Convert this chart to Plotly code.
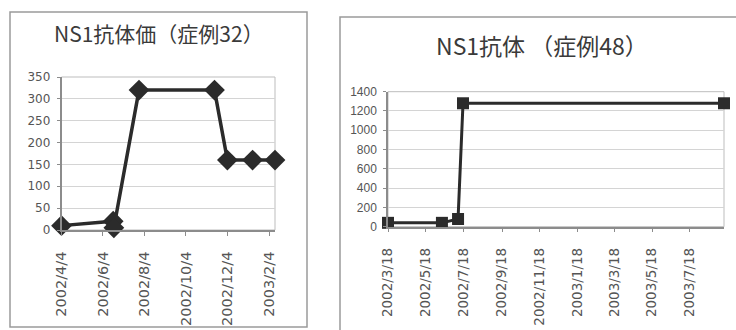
import plotly.graph_objects as go

W, H = 736, 330

# NS1 antibody titers, case 32
dates_32 = ["2002-04-04", "2002-06-19", "2002-06-20", "2002-07-27",
            "2002-11-15", "2002-12-04", "2003-01-10", "2003-02-12"]
titer_32 = [10, 20, 5, 320, 320, 160, 160, 160]
xticks_32 = ["2002-04-04", "2002-06-04", "2002-08-04", "2002-10-04",
             "2002-12-04", "2003-02-04"]
xlabels_32 = ["2002/4/4", "2002/6/4", "2002/8/4", "2002/10/4",
              "2002/12/4", "2003/2/4"]
yticks_32 = [0, 50, 100, 150, 200, 250, 300, 350]

# NS1 antibody titers, case 48
dates_48 = ["2002-03-18", "2002-06-13", "2002-07-09", "2002-07-17", "2003-09-11"]
titer_48 = [40, 40, 80, 1280, 1280]
xticks_48 = ["2002-03-18", "2002-05-18", "2002-07-18", "2002-09-18",
             "2002-11-18", "2003-01-18", "2003-03-18", "2003-05-18",
             "2003-07-18"]
xlabels_48 = ["2002/3/18", "2002/5/18", "2002/7/18", "2002/9/18",
              "2002/11/18", "2003/1/18", "2003/3/18", "2003/5/18",
              "2003/7/18"]
yticks_48 = [0, 200, 400, 600, 800, 1000, 1200, 1400]

title_32 = "NS1抗体価（症例32）"
title_48 = "NS1抗体 （症例48）"


def fx(px):
    return px / W


def fy(py):
    return 1 - py / H


LINE = "#2b2b2b"
GRID = "#d4d4d4"
AXIS = "#8c8c8c"
TICKC = "#555555"

fig = go.Figure()

fig.add_trace(go.Scatter(
    x=dates_32, y=titer_32, mode="lines+markers",
    line=dict(color=LINE, width=3.5),
    marker=dict(symbol="diamond", size=16, color=LINE),
    cliponaxis=False, xaxis="x", yaxis="y", showlegend=False))

fig.add_trace(go.Scatter(
    x=dates_48, y=titer_48, mode="lines+markers",
    line=dict(color=LINE, width=3),
    marker=dict(symbol="square", size=12, color=LINE),
    cliponaxis=False, xaxis="x2", yaxis="y2", showlegend=False))

common_x = dict(type="date", showgrid=False, showline=True, linecolor=AXIS,
                linewidth=1.5, ticks="outside", ticklen=4, tickcolor=AXIS,
                tickangle=-90, zeroline=False, ticklabelstandoff=10,
                automargin=False)
common_y = dict(showgrid=True, gridcolor=GRID, gridwidth=1, showline=True,
                linecolor=AXIS, linewidth=1.5, ticks="outside", ticklen=3,
                tickcolor=AXIS, zeroline=False, ticklabelstandoff=4,
                automargin=False)

fig.update_layout(
    template="none",
    width=W, height=H,
    margin=dict(l=0, r=0, t=0, b=0),
    paper_bgcolor="white", plot_bgcolor="white",
    xaxis=dict(**common_x, domain=[fx(61.5), fx(275)],
               range=["2002-04-04", "2003-02-12"],
               tickvals=xticks_32, ticktext=xlabels_32,
               tickfont=dict(family="DejaVu Sans", size=14.5, color=TICKC),
               anchor="y"),
    yaxis=dict(**common_y, domain=[fy(230), fy(77)], range=[0, 350],
               tickvals=yticks_32,
               tickfont=dict(family="DejaVu Sans", size=12, color=TICKC),
               anchor="x"),
    xaxis2=dict(**common_x, domain=[fx(388), fx(724)],
                range=["2002-03-18", "2003-09-11"],
                tickvals=xticks_48, ticktext=xlabels_48,
                tickfont=dict(family="DejaVu Sans", size=13.5, color=TICKC),
                anchor="y2"),
    yaxis2=dict(**common_y, domain=[fy(226.7), fy(91.7)], range=[0, 1400],
                tickvals=yticks_48,
                tickfont=dict(family="Liberation Sans", size=12, color=TICKC),
                anchor="x2"),
)

# outer chart frames and plot-area borders
shapes = [
    dict(type="rect", xref="paper", yref="paper",
         x0=fx(10), x1=fx(307), y0=fy(327), y1=fy(12),
         line=dict(color="#9a9a9a", width=1.5), layer="below"),
    dict(type="rect", xref="paper", yref="paper",
         x0=fx(340), x1=fx(760), y0=fy(345), y1=fy(17),
         line=dict(color="#9a9a9a", width=1.5), layer="below"),
    dict(type="rect", xref="x domain", yref="y domain",
         x0=0, x1=1, y0=0, y1=1, line=dict(color="#bdbdbd", width=1),
         layer="below"),
    dict(type="rect", xref="x2 domain", yref="y2 domain",
         x0=0, x1=1, y0=0, y1=1, line=dict(color="#bdbdbd", width=1),
         layer="below"),
]
fig.update_layout(shapes=shapes)

fig.add_annotation(text=title_32, x=fx(159), y=fy(33), xref="paper",
                   yref="paper", showarrow=False, xanchor="center",
                   yanchor="middle",
                   font=dict(family="Noto Sans CJK JP", size=21, color="#3a3a3a"))
fig.add_annotation(text=title_48, x=fx(542), y=fy(45), xref="paper",
                   yref="paper", showarrow=False, xanchor="center",
                   yanchor="middle",
                   font=dict(family="Noto Sans CJK JP", size=23, color="#3a3a3a"))

fig.write_html("out.html")
